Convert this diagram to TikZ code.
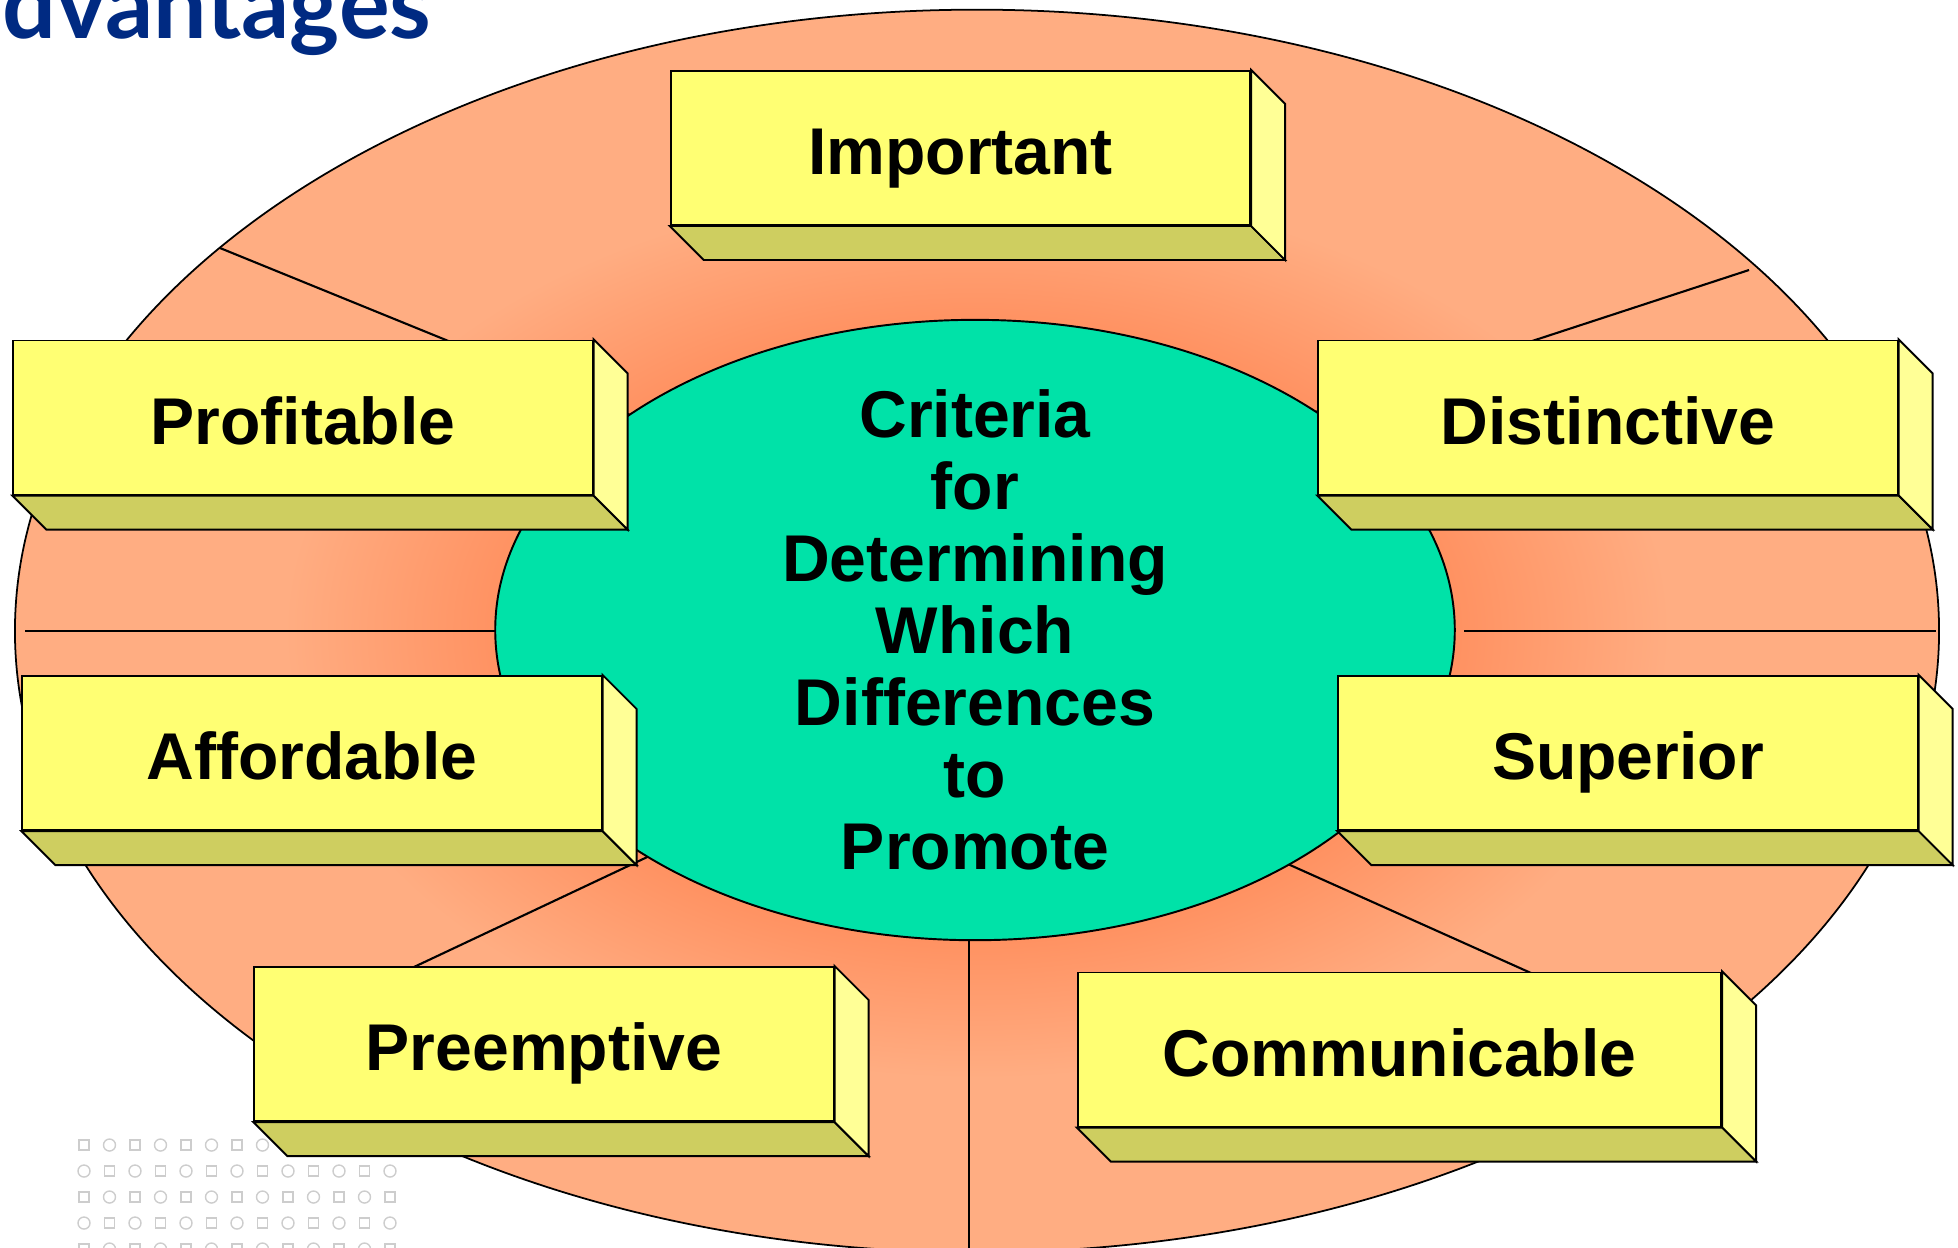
\documentclass[tikz,border=0pt]{standalone}
\usepackage{fontspec}
\setmainfont{Liberation Sans}
\newfontfamily\titlefont{Lato}
\usetikzlibrary{calc}

\definecolor{ringlight}{RGB}{255,173,130}
\definecolor{ringdark}{RGB}{255,146,98}
\definecolor{hubgreen}{RGB}{0,226,168}
\definecolor{boxfront}{RGB}{255,255,115}
\definecolor{boxside}{RGB}{255,255,150}
\definecolor{boxbottom}{RGB}{206,206,96}
\definecolor{titleblue}{RGB}{0,42,130}
\definecolor{dotgray}{RGB}{205,205,205}

\pgfdeclareradialshading{ringshade}{\pgfpoint{0bp}{0bp}}{color(0bp)=(ringdark); color(12.5bp)=(ringdark); color(18bp)=(ringlight); color(50bp)=(ringlight)}

\begin{document}
\begin{tikzpicture}[x=0.01cm,y=-0.01cm,
  facebox/.style={draw, line width=0.55pt, fill=boxfront, minimum width=5.79cm,
    minimum height=1.54cm, inner sep=0pt, text height=15.2pt, text depth=0pt,
    font=\fontsize{18.8}{20.5}\selectfont\bfseries},
  boxface/.style={draw, line width=0.55pt},
  spoke/.style={line width=0.6pt},
  dotmark/.style={draw=dotgray, line width=0.4pt}]
\useasboundingbox (0,0) rectangle (1958,1247);
\clip (0,0) rectangle (1958,1247);

% Dot pattern
\foreach \r in {0,...,4}
  \foreach \c in {0,...,12}{
    \pgfmathtruncatemacro\kind{mod(\r+\c,2)}
    \ifnum\kind=0
      \draw[dotmark] (84+25.5*\c-5,1145+26*\r-5) rectangle ++(10,10);
    \else
      \draw[dotmark] (84+25.5*\c,1145+26*\r) circle[radius=0.06cm];
    \fi
  }

% Outer ring
\shadedraw[shading=ringshade, line width=0.5pt] (977,631) ellipse [x radius=9.615cm, y radius=6.21cm];

% Spokes
\draw[spoke] (220,248) -- (640,419);
\draw[spoke] (1749,270) -- (1300,417);
\draw[spoke] (25,631) -- (520,631);
\draw[spoke] (1464,631) -- (1936,631);
\draw[spoke] (660,851) -- (380,983);
\draw[spoke] (1270,856) -- (1560,986);
\draw[spoke] (969,900) -- (969,1260);

% Hub
\draw[fill=hubgreen, line width=0.55pt] (975,630) ellipse [x radius=4.795cm, y radius=3.1cm];
\node[align=center, font=\fontsize{18.8}{20.5}\selectfont\bfseries] (hub) at (975,630)
  {Criteria\\for\\Determining\\Which\\Differences\\to\\Promote};

% Boxes
\node[facebox] (imp) at (960.5,148) {Important};
\node[facebox] (prof) at (303,417.5) {Profitable};
\node[facebox] (dist) at (1608,417.5) {Distinctive};
\node[facebox] (aff) at (312,753) {Affordable};
\node[facebox] (sup) at (1628,753) {Superior};
\node[facebox] (pre) at (544,1044) {Preemptive};
\node[facebox, minimum width=6.43cm] (com) at (1399.5,1049.5) {Communicable};

\foreach \b in {imp,prof,dist,aff,sup,pre,com}{
  \draw[boxface, fill=boxbottom] (\b.south west) -- ++(34,34)
    -- ($(\b.south east)+(34,34)$) -- (\b.south east) -- cycle;
  \draw[boxface, fill=boxside] (\b.north east) -- ++(34,34)
    -- ($(\b.south east)+(34,34)$) -- (\b.south east) -- cycle;
}

% Title
\node[anchor=base east, inner sep=0pt, text=titleblue,
  font=\titlefont\bfseries\fontsize{27}{30}\selectfont] (title) at (432,38) {dvantages};
\end{tikzpicture}
\end{document}
